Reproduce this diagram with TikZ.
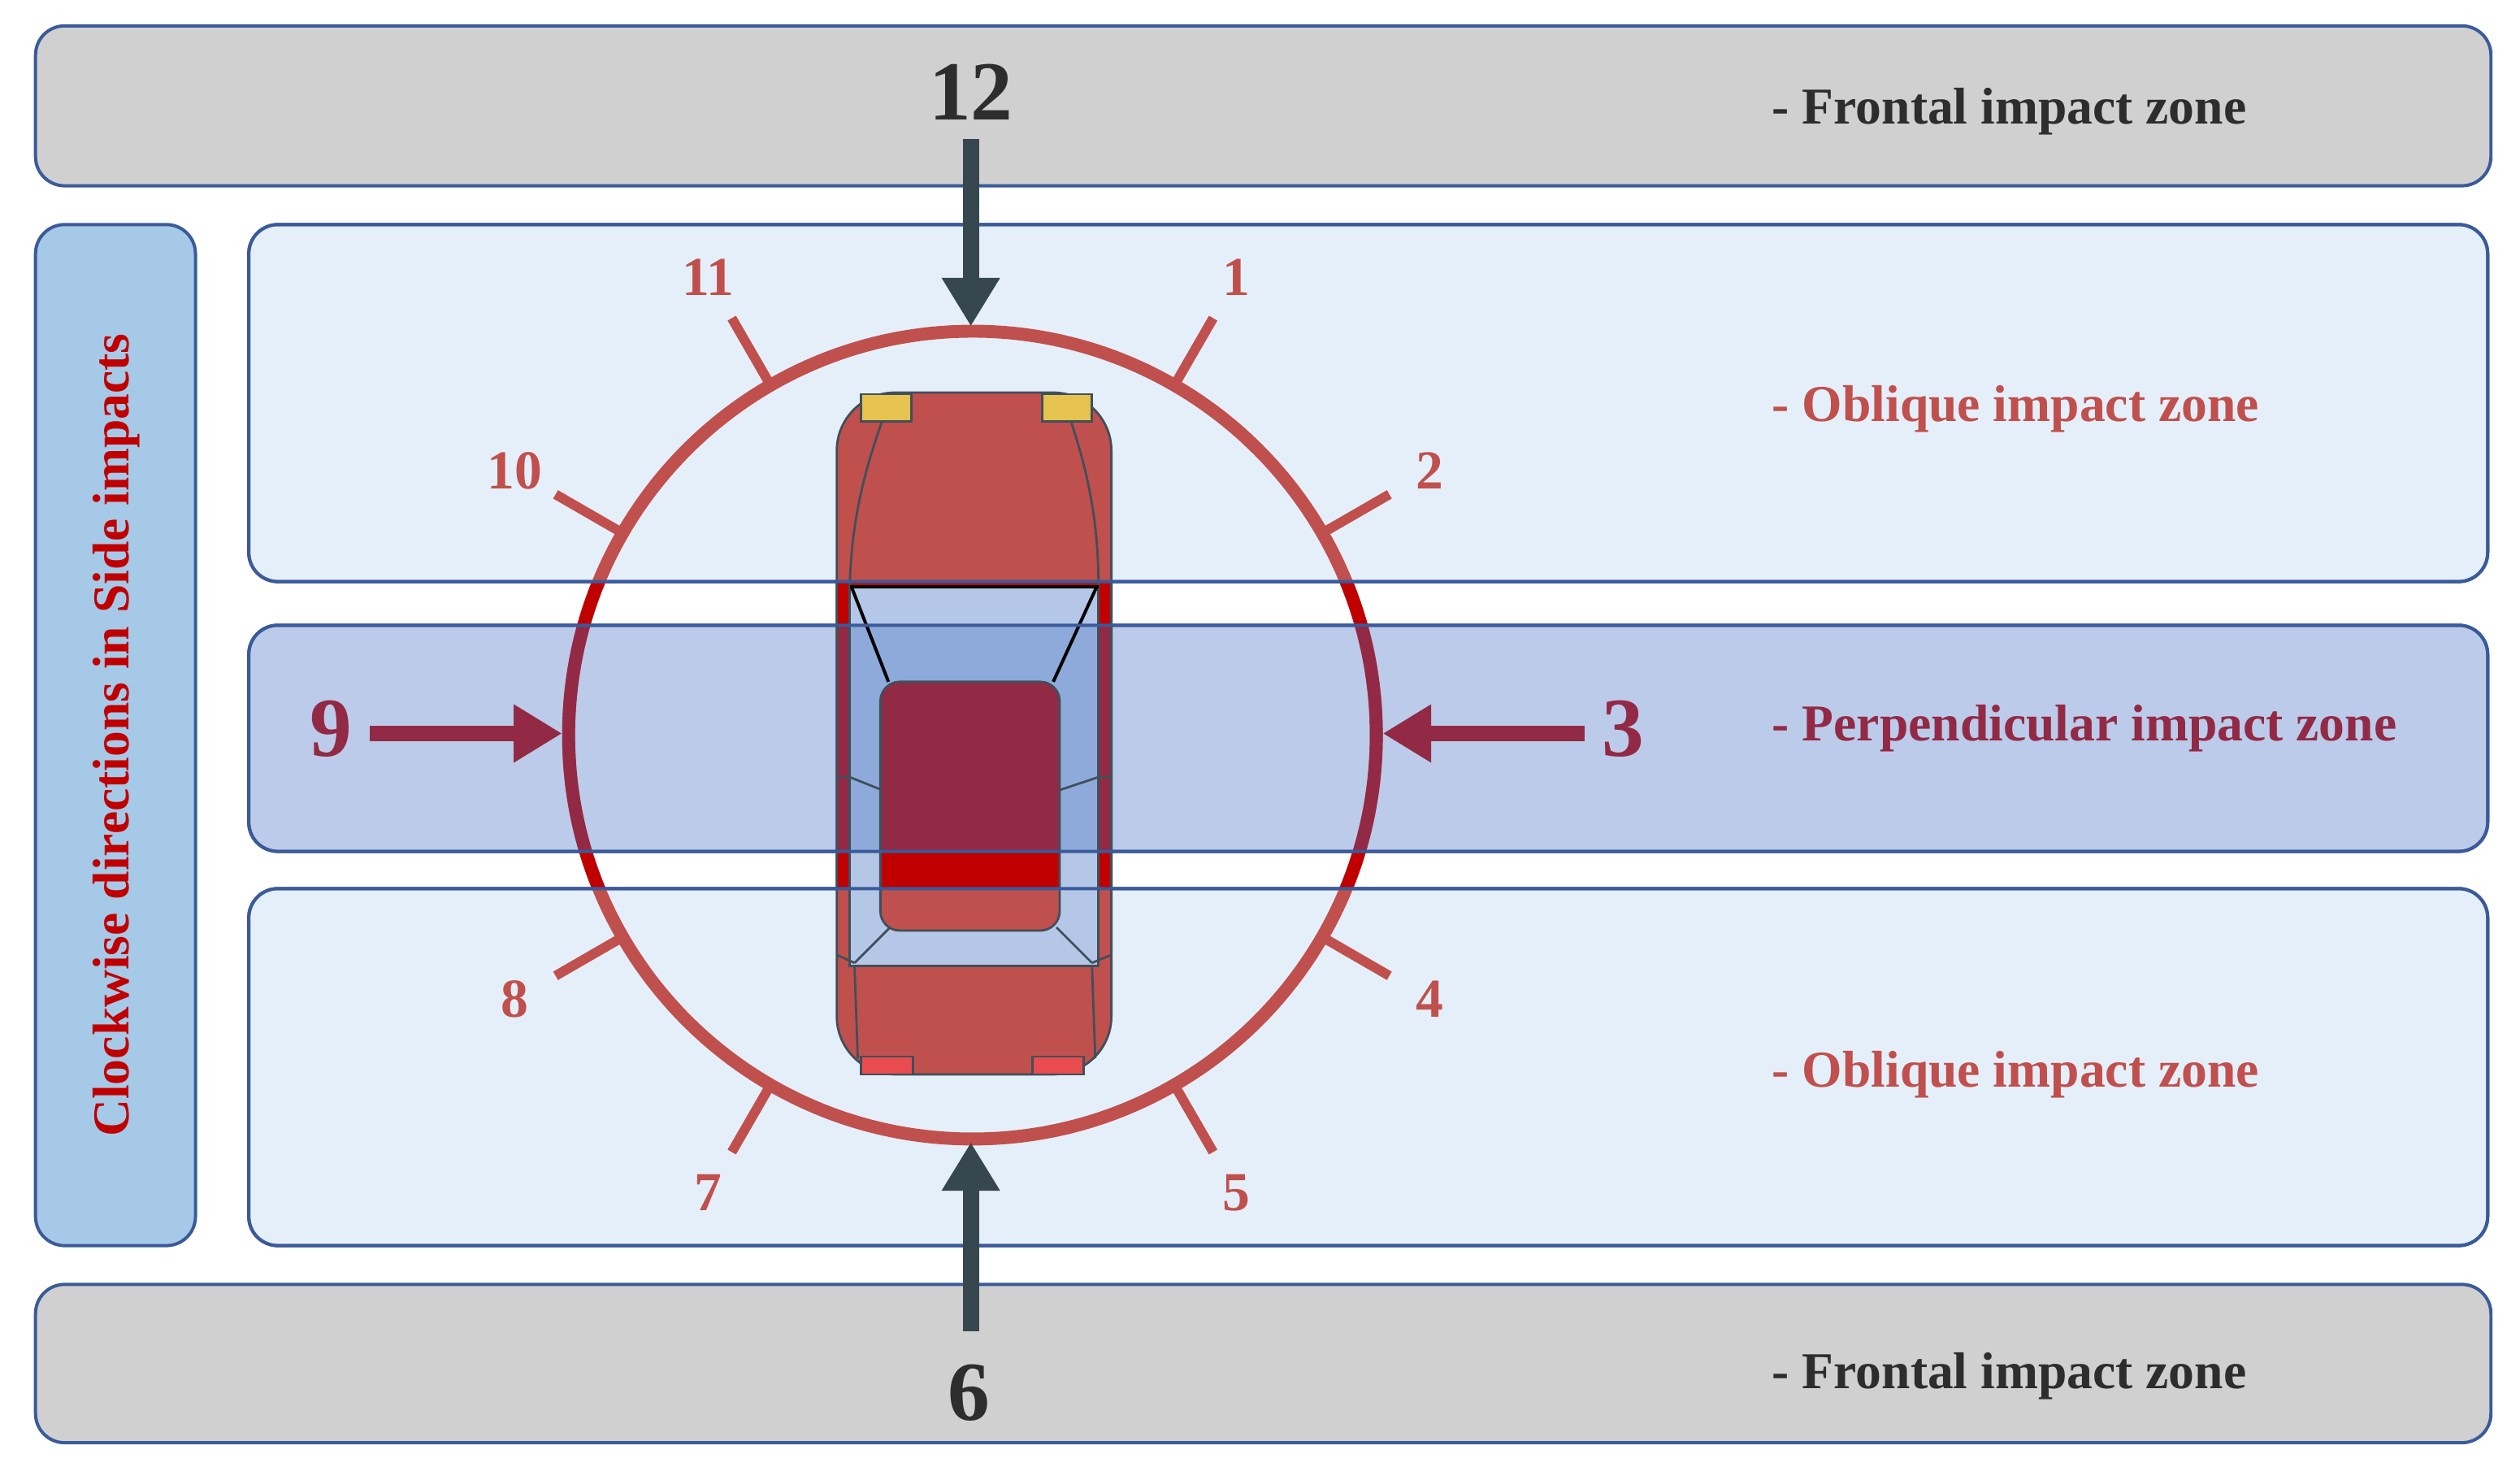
\documentclass[tikz,border=0pt]{standalone}
\usepackage{fontspec}
\setmainfont{Liberation Serif}
\usetikzlibrary{arrows.meta}
\definecolor{bord}{HTML}{3A5A9A}
\definecolor{grayf}{HTML}{D0D0D0}
\definecolor{leftf}{HTML}{A6C9E8}
\definecolor{oblf}{HTML}{E5EFF9}
\definecolor{perpf}{HTML}{BCCBEA}
\definecolor{cred}{HTML}{C0504D}
\definecolor{bred}{HTML}{C00000}
\definecolor{dred}{HTML}{922A45}
\definecolor{glassA}{HTML}{B4C7E7}
\definecolor{glassB}{HTML}{8EAADB}
\definecolor{slate}{HTML}{37474F}
\definecolor{txtdark}{HTML}{2D2D2D}
\definecolor{carline}{HTML}{404F5A}
\definecolor{headl}{HTML}{E6C34F}
\definecolor{taill}{HTML}{E84C4F}
\tikzset{
  zone/.style={draw=bord, line width=1pt, rounded corners=9pt},
  zonetxt/.style={anchor=west, font=\fontsize{16}{18}\selectfont\bfseries},
  ticklbl/.style={text=cred, font=\fontsize{17}{19}\selectfont\bfseries},
  biglbl/.style={font=\fontsize{26}{28}\selectfont\bfseries},
  bigarrow/.style={line width=5pt, -{Triangle[width=17pt,length=15pt]}},
  cl/.style={draw=carline, line width=0.7pt},
}
\newcommand{\mycar}[3]{%
  \draw[#3, line width=4pt] (602,455) circle[radius=250];
  \draw[cl,fill=#1, rounded corners=18pt] (518,243) rectangle (688,665);
  \fill[headl, cl] (533,244) rectangle (564,261);
  \fill[headl, cl] (645,244) rectangle (676,261);
  \fill[taill, cl] (533,654) rectangle (565,665);
  \fill[taill, cl] (639,654) rectangle (671,665);
  \draw[cl] (546,261) .. controls (532,300) and (527,330) .. (526,363);
  \draw[cl] (663,261) .. controls (676,300) and (680,330) .. (680,363);
  \fill[#2, cl] (526,363) rectangle (680,598);
  \draw[black, line width=1pt] (526,363) -- (680,363);
  \draw[black, line width=1pt] (527,363) -- (550,422);
  \draw[black, line width=1pt] (679,363) -- (652,422);
  \draw[cl] (518,481) -- (526,481) -- (546,489);
  \draw[cl] (688,481) -- (680,481) -- (656,489);
  \draw[cl] (551,574) -- (529,596);
  \draw[cl] (654,574) -- (676,596);
  \draw[cl] (529,598) -- (531,655);
  \draw[cl] (676,598) -- (678,655);
  \draw[cl] (518,591) -- (529,596);
  \draw[cl] (688,591) -- (676,596);
  \draw[cl, fill=#1, rounded corners=6pt] (545,422) rectangle (656,576);
}
\begin{document}
\begin{tikzpicture}[x=0.5pt, y=-0.5pt]
\useasboundingbox (0,0) rectangle (1560,916);
\draw[zone, fill=grayf] (22,16) rectangle (1542,115);
\draw[zone, fill=grayf] (22,795) rectangle (1542,893);
\draw[zone, fill=leftf] (22,139) rectangle (121,771);
\draw[zone, fill=oblf] (154,139) rectangle (1540,360);
\draw[zone, fill=perpf] (154,387) rectangle (1540,527);
\draw[zone, fill=oblf] (154,550) rectangle (1540,771);
\mycar{cred}{glassA}{cred}
\begin{scope}
  \clip (0,360) rectangle (1560,387) (0,527) rectangle (1560,550);
  \mycar{bred}{glassA}{bred}
\end{scope}
\begin{scope}
  \clip (154,387) rectangle (1540,527);
  \mycar{dred}{glassB}{dred}
\end{scope}
\draw[zone] (154,139) rectangle (1540,360);
\draw[zone] (154,387) rectangle (1540,527);
\draw[zone] (154,550) rectangle (1540,771);
\foreach \h in {1,2,4,5,7,8,10,11}{
  \draw[cred, line width=3pt] ({602+250*cos(90-30*\h)},{455-250*sin(90-30*\h)}) -- ({602+298*cos(90-30*\h)},{455-298*sin(90-30*\h)});
  \node[ticklbl] (t\h) at ({602+327*cos(90-30*\h)},{455-327*sin(90-30*\h)}) {\h};
}
\node[biglbl, text=txtdark] (n12) at (601,57) {12};
\node[biglbl, text=txtdark] (n6) at (600,862) {6};
\node[biglbl, text=dred] (n9) at (205,451) {9};
\node[biglbl, text=dred] (n3) at (1005,451) {3};
\coordinate (a12s) at (601,86); \coordinate (a12e) at (601,202);
\coordinate (a6s) at (601,824); \coordinate (a6e) at (601,707);
\coordinate (a9s) at (229,454); \coordinate (a9e) at (348,454);
\coordinate (a3s) at (981,454); \coordinate (a3e) at (856,454);
\draw[bigarrow, slate] (a12s) -- (a12e);
\draw[bigarrow, slate] (a6s) -- (a6e);
\draw[bigarrow, dred] (a9s) -- (a9e);
\draw[bigarrow, dred] (a3s) -- (a3e);
\node[zonetxt, text=txtdark] (f1) at (1090,69) {- Frontal impact zone};
\node[zonetxt, text=txtdark] (f2) at (1090,852) {- Frontal impact zone};
\node[zonetxt, text=cred] (o1) at (1090,253) {- Oblique impact zone};
\node[zonetxt, text=cred] (o2) at (1090,665) {- Oblique impact zone};
\node[zonetxt, text=dred] (p1) at (1090,451) {- Perpendicular impact zone};
\node[rotate=90, text=bred, font=\fontsize{16}{18}\selectfont\bfseries] (side) at (72,455) {Clockwise directions in Side impacts};
\end{tikzpicture}
\end{document}
